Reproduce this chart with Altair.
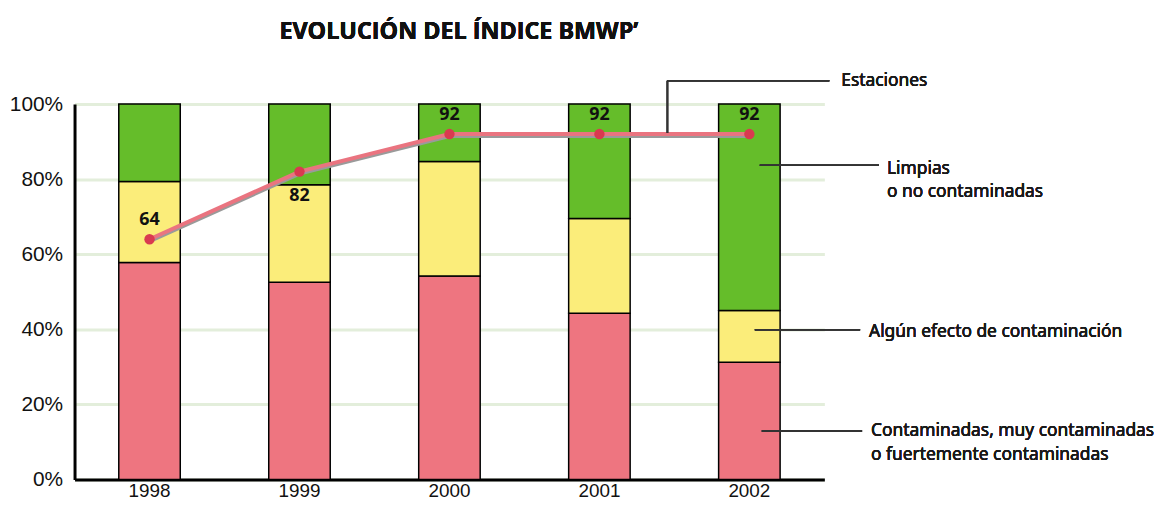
import altair as alt
import pandas as pd

# ---- data ----
years = ["1998", "1999", "2000", "2001", "2002"]
contaminadas = [57.8, 52.5, 54.2, 44.3, 31.2]       # % stations (bottom, red)
algun_efecto = [21.6, 26.0, 30.5, 25.2, 13.8]       # % stations (middle, yellow)
limpias = [20.6, 21.5, 15.3, 30.5, 55.0]            # % stations (top, green)
estaciones = [64, 82, 92, 92, 92]                   # number of stations (line)

categories = ["Contaminadas", "Algún efecto", "Limpias"]
cat_colors = ["#ee7580", "#fbed7a", "#65bd2a"]

title_text = "EVOLUCIÓN DEL ÍNDICE BMWP’"
ann_estaciones = "Estaciones"
ann_limpias = ["Limpias", "o no contaminadas"]
ann_algun = "Algún efecto de contaminación"
ann_contam = ["Contaminadas, muy contaminadas", "o fuertemente contaminadas"]

# ---- tables ----
rows = []
for i, y in enumerate(years):
    for k, (cat, vals) in enumerate(zip(categories, [contaminadas, algun_efecto, limpias])):
        rows.append({"year": y, "cat": cat, "value": vals[i], "ord": k})
bars_df = pd.DataFrame(rows)
line_df = pd.DataFrame({"year": years, "est": estaciones})
line_df["lab_pos"] = ["above", "below", "above", "above", "above"]

FONT = "Liberation Sans"
AFONT = "Noto Sans"

xscale = alt.Scale(domain=years, paddingInner=0.59, paddingOuter=0.295)
yscale = alt.Scale(domain=[0, 100])

bars = alt.Chart(bars_df).mark_bar(stroke="black", strokeWidth=1.5).encode(
    x=alt.X("year:N", scale=xscale, sort=years,
            axis=alt.Axis(title=None, labelAngle=0, ticks=False, domainColor="black",
                          domainWidth=3, labelFont=FONT, labelFontSize=19,
                          labelColor="#111", labelPadding=2, grid=False)),
    y=alt.Y("value:Q", stack="zero", scale=yscale,
            axis=alt.Axis(title=None, values=[0, 20, 40, 60, 80, 100],
                          labelExpr="datum.value + '%'", ticks=False,
                          domainColor="black", domainWidth=3, gridColor="#e3eedb",
                          gridWidth=3, labelFont=FONT, labelFontSize=21,
                          labelColor="#111", labelPadding=12)),
    color=alt.Color("cat:N", scale=alt.Scale(domain=categories, range=cat_colors), legend=None),
    order=alt.Order("ord:Q"),
)

shadow = alt.Chart(line_df).mark_line(color="#9a9a9a", strokeWidth=4, yOffset=2).encode(
    x=alt.X("year:N", scale=xscale, sort=years), y=alt.Y("est:Q", scale=yscale))
line = alt.Chart(line_df).mark_line(color="#ea7480", strokeWidth=4).encode(
    x=alt.X("year:N", scale=xscale, sort=years), y=alt.Y("est:Q", scale=yscale))
pts = alt.Chart(line_df).mark_circle(color="#d93a50", opacity=1, size=110).encode(
    x=alt.X("year:N", scale=xscale, sort=years), y=alt.Y("est:Q", scale=yscale))

lab_above = alt.Chart(line_df).transform_filter("datum.lab_pos == 'above'").mark_text(
    font="Open Sans", fontSize=18, fontWeight="bold", color="#111", dy=-19, baseline="middle"
).encode(x=alt.X("year:N", scale=xscale, sort=years), y=alt.Y("est:Q", scale=yscale),
         text="est:Q")
lab_below = alt.Chart(line_df).transform_filter("datum.lab_pos == 'below'").mark_text(
    font="Open Sans", fontSize=18, fontWeight="bold", color="#111", dy=25, baseline="middle"
).encode(x=alt.X("year:N", scale=xscale, sort=years), y=alt.Y("est:Q", scale=yscale),
         text="est:Q")

# ---- annotations (leader lines + labels on the right) ----
LC = "#333333"

lead_est_v = alt.Chart(line_df).mark_rule(color=LC, strokeWidth=1.5).encode(
    x=alt.value(597), y=alt.datum(92.3), y2=alt.datum(106.2))
lead_est_h = alt.Chart(line_df).mark_rule(color=LC, strokeWidth=1.5).encode(
    x=alt.value(597), x2=alt.value(760), y=alt.datum(106.2))
lead_lim = alt.Chart(line_df).mark_rule(color=LC, strokeWidth=1.5).encode(
    x=alt.value(690), x2=alt.value(810), y=alt.datum(83.7))
lead_alg = alt.Chart(line_df).mark_rule(color=LC, strokeWidth=1.5).encode(
    x=alt.value(685), x2=alt.value(791), y=alt.datum(39.9))
lead_con = alt.Chart(line_df).mark_rule(color=LC, strokeWidth=1.5).encode(
    x=alt.value(692), x2=alt.value(793), y=alt.datum(12.9))

def ann(text, x, y):
    return alt.Chart(line_df).mark_text(
        text=text, align="left", baseline="middle", font=AFONT, fontSize=17.5,
        fontWeight="normal", color="#1a1a1a", lineHeight=24
    ).encode(x=alt.value(x), y=alt.datum(y))

t_est = ann(ann_estaciones, 772, 106.2)
t_lim = ann(ann_limpias, 818, 82.8)
t_alg = ann(ann_algun, 800, 39.4)
t_con = ann(ann_contam, 802, 12.9)

# chart title drawn as a text mark above the plot area
title = alt.Chart(line_df).mark_text(
    text=title_text, align="center", baseline="middle", font="Open Sans",
    fontSize=23.5, fontWeight="bold", color="#111"
).encode(x=alt.value(387), y=alt.value(-72))

chart = alt.layer(
    bars, shadow, line, pts, lab_above, lab_below,
    lead_est_v, lead_est_h, lead_lim, lead_alg, lead_con,
    t_est, t_lim, t_alg, t_con, title,
).properties(
    width=755, height=378,
    padding={"left": 67, "top": 95, "right": 342, "bottom": 22},
    autosize=alt.AutoSizeParams(type="none"),
).configure_view(stroke=None)

chart.save("out.html", embed_options={"renderer": "svg", "actions": False})
